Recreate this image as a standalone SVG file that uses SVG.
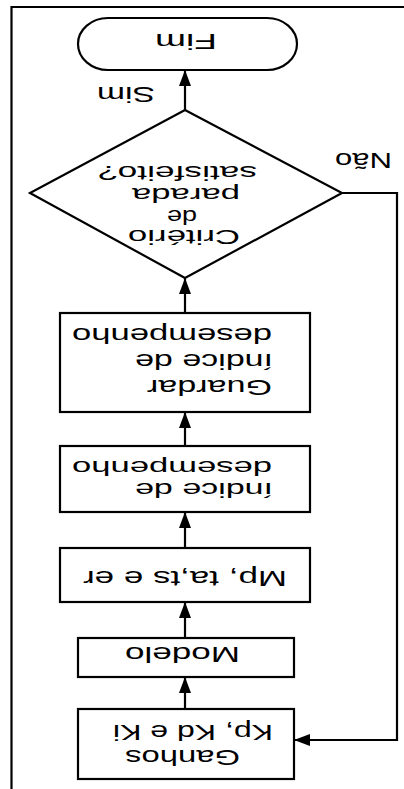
<svg xmlns="http://www.w3.org/2000/svg" width="404" height="789" viewBox="0 0 404 789">
  <style>
    .shape { fill: #fff; stroke: #000; stroke-width: 2.2; }
    .wire { fill: none; stroke: #000; stroke-width: 2.2; }
    .lbl { font-family: "Liberation Sans", Arial, sans-serif; font-size: 22px; fill: #000; }
    .small { font-size: 20px; }
  </style>
  <defs>
    <marker id="arrow" markerUnits="userSpaceOnUse" viewBox="0 0 16 12" markerWidth="16" markerHeight="12" refX="16" refY="6" orient="auto">
      <path d="M0,0 L16,6 L0,12 z" fill="#000"/>
    </marker>
  </defs>
  <rect width="404" height="789" fill="#fff"/>
  <!-- the whole sheet is printed upside down -->
  <g transform="rotate(180 202 394.5)">
    <!-- sheet border -->
    <path class="wire" d="M0,782 H392.5 V0" stroke-width="2.6"/>

    <g id="connectors">
      <line class="wire" x1="219" y1="80" x2="219" y2="112" marker-end="url(#arrow)"/>
      <line class="wire" x1="219" y1="151" x2="219" y2="187" marker-end="url(#arrow)"/>
      <line class="wire" x1="219" y1="241" x2="219" y2="277" marker-end="url(#arrow)"/>
      <line class="wire" x1="219" y1="343" x2="219" y2="377" marker-end="url(#arrow)"/>
      <line class="wire" x1="219" y1="476" x2="219" y2="511" marker-end="url(#arrow)"/>
      <line class="wire" x1="219" y1="679" x2="219" y2="719" marker-end="url(#arrow)"/>
      <polyline class="wire" points="62,596 7,596 7,49 110,49" marker-end="url(#arrow)"/>
      <text class="lbl" x="249" y="702" textLength="58" lengthAdjust="spacingAndGlyphs" font-size="24">Sim</text>
      <text class="lbl" x="12" y="636" textLength="57" lengthAdjust="spacingAndGlyphs">Não</text>
    </g>

    <g id="ganhos">
      <rect class="shape" x="110" y="10" width="216" height="70"/>
      <text class="lbl" x="164" y="39" textLength="115" lengthAdjust="spacingAndGlyphs">Ganhos</text>
      <text class="lbl" x="131" y="64" textLength="160" lengthAdjust="spacingAndGlyphs">Kp, Kd e Ki</text>
    </g>

    <g id="modelo">
      <rect class="shape" x="110" y="112" width="216" height="39"/>
      <text class="lbl" x="164" y="142" textLength="115" lengthAdjust="spacingAndGlyphs" font-size="26">Modelo</text>
    </g>

    <g id="medidas">
      <rect class="shape" x="94" y="187" width="250" height="54"/>
      <text class="lbl" x="117" y="218" textLength="204" lengthAdjust="spacingAndGlyphs">Mp, ta,ts e  er</text>
    </g>

    <g id="indice">
      <rect class="shape" x="94" y="277" width="250" height="66"/>
      <text class="lbl small" x="131" y="306" textLength="138" lengthAdjust="spacingAndGlyphs">índice de</text>
      <text class="lbl small" x="132" y="328" textLength="200" lengthAdjust="spacingAndGlyphs">desempenho</text>
    </g>

    <g id="guardar">
      <rect class="shape" x="94" y="377" width="250" height="99"/>
      <text class="lbl" x="132" y="409" textLength="125" lengthAdjust="spacingAndGlyphs">Guardar</text>
      <text class="lbl" x="131" y="435" textLength="138" lengthAdjust="spacingAndGlyphs">índice de</text>
      <text class="lbl" x="132" y="461" textLength="200" lengthAdjust="spacingAndGlyphs">desempenho</text>
    </g>

    <g id="criterio">
      <polygon class="shape" points="219,511 374,596 219,679 62,596"/>
      <text class="lbl small" x="164" y="559" textLength="112" lengthAdjust="spacingAndGlyphs">Critério</text>
      <text class="lbl small" x="207" y="579" textLength="30" lengthAdjust="spacingAndGlyphs">de</text>
      <text class="lbl small" x="164" y="601" textLength="108" lengthAdjust="spacingAndGlyphs">parada</text>
      <text class="lbl small" x="147" y="623" textLength="159" lengthAdjust="spacingAndGlyphs">satisfeito?</text>
    </g>

    <g id="fim">
      <rect class="shape" x="107" y="719" width="219" height="52" rx="30" ry="26"/>
      <text class="lbl" x="187" y="755" textLength="62" lengthAdjust="spacingAndGlyphs" font-size="26">Fim</text>
    </g>
  </g>
</svg>
